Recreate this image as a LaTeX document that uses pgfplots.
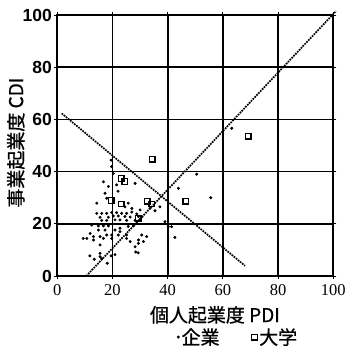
\documentclass[border=0pt]{standalone}
\usepackage{pgfplots}
\pgfplotsset{compat=1.18}
\usepackage{fontspec}
\setmainfont{Liberation Sans}
\newfontfamily\jp[FakeBold=0.8]{Noto Sans CJK JP}
\newfontfamily\serifnum{Liberation Serif}
\begin{document}
\begin{tikzpicture}
\useasboundingbox (0,0) rectangle (349bp,349bp);
\begin{axis}[
  at={(57.3bp,73bp)}, anchor=south west,
  scale only axis, width=276bp, height=261bp,
  xmin=0, xmax=100, ymin=0, ymax=100,
  xtick={0,20,...,100}, ytick={0,20,...,100},
  grid=major, major grid style={black, line width=1.7bp},
  axis line style={black, line width=1.7bp},
  tick style={black, line width=0.9bp}, tick align=outside, major tick length=3bp,
  /pgf/number format/assume math mode=true,
  xticklabel style={font=\fontsize{16.5bp}{18bp}\serifnum, yshift=-2bp},
  yticklabel style={font=\fontsize{17.5bp}{19bp}\selectfont\bfseries, xshift=1bp},
  xlabel={個人起業度 PDI},
  ylabel={事業起業度 CDI},
  xlabel style={font=\fontsize{19bp}{21bp}\jp, at={(axis description cs:0.571,-0.149)}, anchor=center},
  ylabel style={font=\fontsize{19bp}{21bp}\jp, at={(axis description cs:-0.150,0.511)}, anchor=center, rotate=0},
  clip=false,
  legend style={at={(axis description cs:0.655,-0.234)}, anchor=center, draw=none, fill=none,
    font=\fontsize{19bp}{21bp}\jp, legend columns=2,
    /tikz/every even column/.append style={column sep=30bp},
    /tikz/every odd column/.append style={column sep=0bp}},
  legend cell align=left,
]
\addplot[only marks, mark=*, mark size=1.3bp, black] coordinates {
(19.5,44.4)(19.7,41.9)(20.3,39.3)
(16.7,36.1)(17.3,31.7)(18.5,34.3)(21.5,34.9)(22,32.5)
(28.2,35.5)
(14.3,27.9)(17.9,29.8)(25.7,27.9)(24.5,26.5)(27,25.9)
(30,25.3)(33.6,26)(35.4,25)(37.2,26.5)
(39,20.8)(40.2,18.9)(41.4,18.9)(42.6,14.8)
(43.9,33.6)(50.5,39)(55.6,30)(63.2,56.6)
(14.3,24)(16.1,24)(17.9,24)(19.7,24.3)(21.5,24.3)(23.3,24)(25.1,24)(27,24.5)(28.8,23.8)
(15.5,22.5)(18.5,22.5)(20.3,23)(22.1,23)(24.5,22.8)(26.4,22.6)(29.4,22.8)(30.6,22.6)
(16.1,21.3)(17.9,21.3)(20.9,21.5)(22.7,21.5)(25.1,21.3)(28.2,21.3)(30,21.6)
(12.5,19.5)(14.9,19.2)(16.7,19.2)(18.5,19.2)(22.7,18.3)(25.7,19)(27.6,19.2)
(14.9,17.6)(17.3,17.6)(20.9,17.6)(22.7,17)
(11.9,16.3)(13.1,15.1)(15.5,15.1)(17.9,15.7)(19.7,15.7)(22.1,15.7)(25.1,15.7)(30.6,15.7)(32.4,15.1)
(9.4,14.4)(10.7,14.4)(13.1,13.8)(16.7,14.4)(19.7,14.4)(25.1,14.4)(29.4,13.8)(31.2,13.2)
(15.5,11.9)(26.4,13.2)(29.4,12.5)
(28.2,11.2)(29.3,8.9)(28.4,9.2)
(11.8,7.7)(13.4,6.4)(15.5,8.7)(15.5,7.4)(18.1,4.9)(19.5,7.7)(20.9,8.2)(16.1,6.6)
};
\addlegendentry{企業}
\addplot[only marks, mark=square, mark size=2.8bp, black, mark options={line width=1.3bp}] coordinates {
(69.2,53.6)(34.4,44.7)(23.1,37.4)(24.5,36.2)(19.5,28.9)(23.1,27.6)(32.6,28.7)(34.2,27.6)(46.6,28.7)(29.3,22.1)
};
\addlegendentry{大学}
\addplot[densely dotted, line width=1.7bp, black, forget plot] coordinates {(10.5,0) (101,101.5)};
\addplot[densely dotted, line width=1.7bp, black, forget plot] coordinates {(1.6,62.3) (68,3.9)};
\end{axis}
\end{tikzpicture}
\end{document}
